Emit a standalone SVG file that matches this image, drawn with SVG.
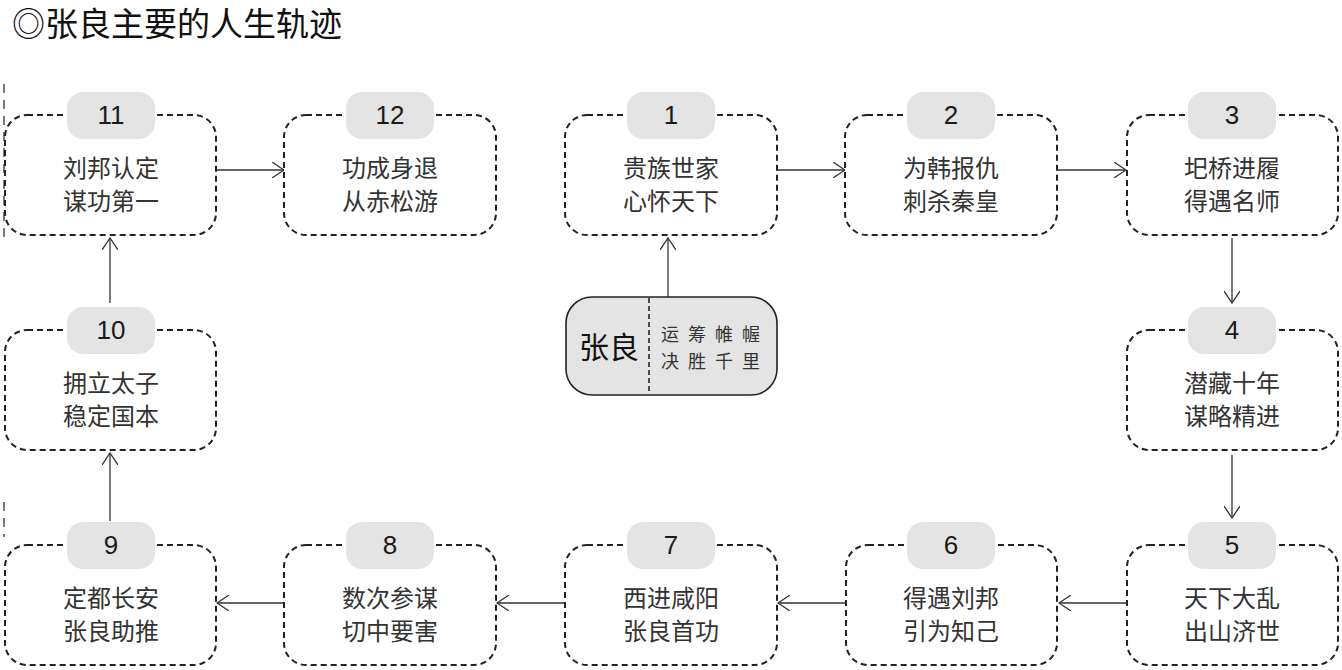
<svg xmlns="http://www.w3.org/2000/svg" width="1342" height="670" viewBox="0 0 1342 670">
<defs>
<style>
.box{fill:#fff;stroke:#222;stroke-width:2;stroke-dasharray:6 4;}
.badge{fill:#e4e4e4;stroke:none;}
.num{font-family:"Liberation Sans",Arial,sans-serif;font-size:26px;fill:#1a1a1a;text-anchor:middle;}
.txt{font-family:"Noto Sans CJK SC",sans-serif;font-size:24px;fill:#333;text-anchor:middle;}
.conn{stroke:#333;stroke-width:1.3;fill:none;marker-end:url(#arr);}
.sub{font-family:"Noto Sans CJK SC",sans-serif;font-size:18px;fill:#333;text-anchor:middle;letter-spacing:9px;}
</style>
<marker id="arr" viewBox="0 0 13 16" refX="12" refY="8" markerWidth="13" markerHeight="16" markerUnits="userSpaceOnUse" orient="auto">
<path d="M0,0 L12,8 L0,16" fill="none" stroke="#333" stroke-width="1.3"/>
</marker>
</defs>
<rect width="1342" height="670" fill="#fff"/>
<text x="12" y="36" font-family="'Noto Sans CJK SC',sans-serif" font-size="33" fill="#111">◎张良主要的人生轨迹</text>
<line x1="4" y1="84" x2="4" y2="240" stroke="#222" stroke-width="1.2" stroke-dasharray="9 7"/>
<line x1="4" y1="502" x2="4" y2="537" stroke="#222" stroke-width="1.2" stroke-dasharray="9 7"/>

<g id="connectors">
<line class="conn" x1="216" y1="170" x2="284" y2="170"/>
<line class="conn" x1="777" y1="170" x2="845" y2="170"/>
<line class="conn" x1="1058" y1="170" x2="1126" y2="170"/>
<line class="conn" x1="1232" y1="238" x2="1232" y2="303"/>
<line class="conn" x1="1232" y1="455" x2="1232" y2="518"/>
<line class="conn" x1="1127" y1="603" x2="1059" y2="603"/>
<line class="conn" x1="846" y1="603" x2="778" y2="603"/>
<line class="conn" x1="565" y1="603" x2="497" y2="603"/>
<line class="conn" x1="284" y1="603" x2="217" y2="603"/>
<line class="conn" x1="110" y1="521" x2="110" y2="453"/>
<line class="conn" x1="110" y1="303" x2="110" y2="238"/>
<line class="conn" x1="668" y1="297" x2="668" y2="238"/>
</g>

<g id="center">
<rect x="566" y="297" width="211" height="98" rx="26" fill="#e4e4e4" stroke="#222" stroke-width="1.6"/>
<line x1="649" y1="298" x2="649" y2="394" stroke="#222" stroke-width="1.6" stroke-dasharray="5 3"/>
<text x="609" y="358" font-family="'Noto Sans CJK SC',sans-serif" font-size="30" fill="#111" text-anchor="middle">张良</text>
<text class="sub" x="715" y="341">运筹帷幄</text>
<text class="sub" x="715" y="368">决胜千里</text>
</g>

<g id="n1"><rect class="box" x="565" y="115" width="212" height="120" rx="22"/><rect class="badge" x="627" y="92" width="88" height="47" rx="16"/><text class="num" x="671" y="124">1</text><text class="txt" x="671" y="177">贵族世家</text><text class="txt" x="671" y="210">心怀天下</text></g>
<g id="n2"><rect class="box" x="845" y="115" width="212" height="120" rx="22"/><rect class="badge" x="907" y="92" width="88" height="47" rx="16"/><text class="num" x="951" y="124">2</text><text class="txt" x="951" y="177">为韩报仇</text><text class="txt" x="951" y="210">刺杀秦皇</text></g>
<g id="n3"><rect class="box" x="1127" y="115" width="211" height="120" rx="22"/><rect class="badge" x="1188" y="92" width="88" height="47" rx="16"/><text class="num" x="1232" y="124">3</text><text class="txt" x="1232" y="177">圯桥进履</text><text class="txt" x="1232" y="210">得遇名师</text></g>
<g id="n4"><rect class="box" x="1127" y="330" width="211" height="120" rx="22"/><rect class="badge" x="1188" y="307" width="88" height="47" rx="16"/><text class="num" x="1232" y="339">4</text><text class="txt" x="1232" y="392">潜藏十年</text><text class="txt" x="1232" y="425">谋略精进</text></g>
<g id="n5"><rect class="box" x="1127" y="545" width="211" height="120" rx="22"/><rect class="badge" x="1188" y="522" width="88" height="47" rx="16"/><text class="num" x="1232" y="554">5</text><text class="txt" x="1232" y="607">天下大乱</text><text class="txt" x="1232" y="640">出山济世</text></g>
<g id="n6"><rect class="box" x="846" y="545" width="211" height="120" rx="22"/><rect class="badge" x="907" y="522" width="88" height="47" rx="16"/><text class="num" x="951" y="554">6</text><text class="txt" x="951" y="607">得遇刘邦</text><text class="txt" x="951" y="640">引为知己</text></g>
<g id="n7"><rect class="box" x="565" y="545" width="212" height="120" rx="22"/><rect class="badge" x="627" y="522" width="88" height="47" rx="16"/><text class="num" x="671" y="554">7</text><text class="txt" x="671" y="607">西进咸阳</text><text class="txt" x="671" y="640">张良首功</text></g>
<g id="n8"><rect class="box" x="284" y="545" width="212" height="120" rx="22"/><rect class="badge" x="346" y="522" width="88" height="47" rx="16"/><text class="num" x="390" y="554">8</text><text class="txt" x="390" y="607">数次参谋</text><text class="txt" x="390" y="640">切中要害</text></g>
<g id="n9"><rect class="box" x="5" y="545" width="211" height="120" rx="22"/><rect class="badge" x="67" y="522" width="88" height="47" rx="16"/><text class="num" x="111" y="554">9</text><text class="txt" x="111" y="607">定都长安</text><text class="txt" x="111" y="640">张良助推</text></g>
<g id="n10"><rect class="box" x="5" y="330" width="211" height="120" rx="22"/><rect class="badge" x="67" y="307" width="88" height="47" rx="16"/><text class="num" x="111" y="339">10</text><text class="txt" x="111" y="392">拥立太子</text><text class="txt" x="111" y="425">稳定国本</text></g>
<g id="n11"><rect class="box" x="5" y="115" width="211" height="120" rx="22"/><rect class="badge" x="67" y="92" width="88" height="47" rx="16"/><text class="num" x="111" y="124">11</text><text class="txt" x="111" y="177">刘邦认定</text><text class="txt" x="111" y="210">谋功第一</text></g>
<g id="n12"><rect class="box" x="284" y="115" width="212" height="120" rx="22"/><rect class="badge" x="346" y="92" width="88" height="47" rx="16"/><text class="num" x="390" y="124">12</text><text class="txt" x="390" y="177">功成身退</text><text class="txt" x="390" y="210">从赤松游</text></g>
</svg>
